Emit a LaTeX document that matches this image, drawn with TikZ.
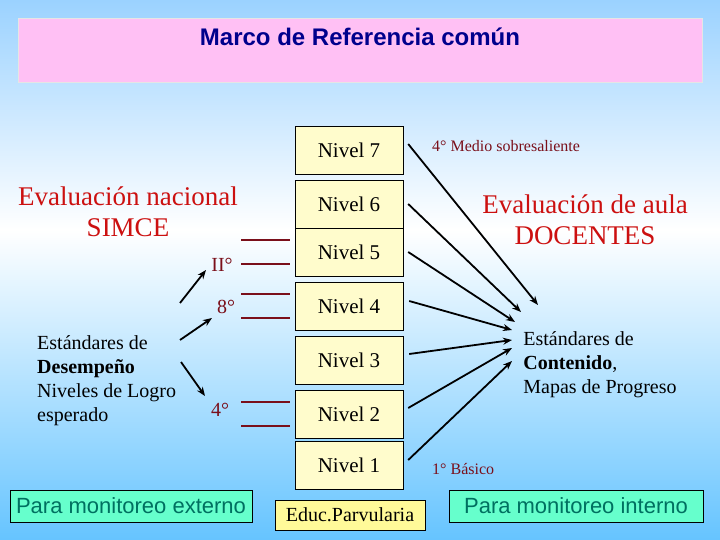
\documentclass[tikz,border=0pt]{standalone}
\usepackage{fontspec}
\usetikzlibrary{arrows.meta}
\setmainfont{Liberation Serif}
\setsansfont{Liberation Sans}
\begin{document}
\begin{tikzpicture}[x=1pt,y=-1pt,
  nivel/.style={draw,fill=yellow!20,minimum width=108pt,minimum height=48pt,font=\fontsize{21}{24}\selectfont,inner sep=0pt},
  mon/.style={draw,fill=aqua,font=\sffamily\fontsize{22}{24}\selectfont,text=monteal,inner sep=0pt},
  arr/.style={-{Stealth[length=9pt,width=7pt]},line width=1.8pt},
  bar/.style={line width=2.8pt,draw=darkred},
  small/.style={text=darkred,font=\fontsize{16}{18}\selectfont,anchor=west,inner sep=0pt},
  big/.style={text=evred,font=\fontsize{27}{31}\selectfont,align=center}]
\definecolor{aqua}{HTML}{66FFCC}
\definecolor{monteal}{HTML}{007060}
\definecolor{darkred}{HTML}{7A0F1A}
\definecolor{evred}{HTML}{CC1010}
\definecolor{bgtop}{HTML}{9BD2FF}
\definecolor{bgbot}{HTML}{66C4FF}
\definecolor{pinkbox}{HTML}{FFC0F4}
\useasboundingbox (0,0) rectangle (720,540);
\shade[top color=bgtop,bottom color=white] (0,0) rectangle (720,230);
\shade[top color=white,bottom color=bgbot] (0,230) rectangle (720,540);
\node[draw=white!80!gray,fill=pinkbox,minimum width=684pt,minimum height=64pt,anchor=north west,inner sep=0pt] (hdr) at (18,18) {};
\node[text=blue!55!black,font=\sffamily\bfseries\fontsize{24}{26}\selectfont] (title) at (360,37) {Marco de Referencia común};
\foreach \n/\y in {7/150,6/204,5/252,4/306,3/360,2/414,1/465}{
  \node[nivel] (n\n) at (349,\y) {Nivel \n};
}
\node[big] (evn) at (128,212) {Evaluación nacional\\SIMCE};
\node[big] (eva) at (585,220) {Evaluación de aula\\DOCENTES};
\node[small] (m4) at (432,146) {4° Medio sobresaliente};
\node[small] (b1) at (432,469) {1° Básico};
\node[text=darkred,font=\fontsize{20}{22}\selectfont] (ii) at (222,265) {II°};
\node[text=darkred,font=\fontsize{20}{22}\selectfont] (e8) at (226,307) {8°};
\node[text=darkred,font=\fontsize{20}{22}\selectfont] (c4) at (220,410) {4°};
\foreach \y in {240,264,294,318,402,426}{
  \coordinate (bl\y) at (241,\y); \coordinate (br\y) at (290,\y);
  \draw[bar] (bl\y) -- (br\y);
}
\node[anchor=west,align=left,font=\fontsize{20}{24}\selectfont,inner sep=0pt] (desl) at (37,381) {Estándares de\\\textbf{Desempeño}\\Niveles de Logro\\esperado};
\node[align=left,font=\fontsize{20}{24}\selectfont,inner sep=0pt] (cont) at (600,365) {Estándares de\\\textbf{Contenido},\\Mapas de Progreso};
\coordinate (ls1) at (180,303); \coordinate (le1) at (206,270);
\coordinate (ls2) at (180,340); \coordinate (le2) at (212,318);
\coordinate (ls3) at (181,362); \coordinate (le3) at (205,396);
\draw[arr] (ls1) -- (le1);
\draw[arr] (ls2) -- (le2);
\draw[arr] (ls3) -- (le3);
\coordinate (t7) at (538,305);
\coordinate (t6) at (521,312);
\coordinate (t5) at (515,322);
\coordinate (t4) at (512,330);
\coordinate (t3) at (512,340);
\coordinate (t2) at (512,348);
\coordinate (t1) at (512,361);
\draw[arr] ([xshift=5pt,yshift=6pt]n7.east) -- (t7);
\draw[arr] ([xshift=5pt]n6.east) -- (t6);
\draw[arr] ([xshift=5pt]n5.east) -- (t5);
\draw[arr] ([xshift=6pt,yshift=5pt]n4.east) -- (t4);
\draw[arr] ([xshift=6pt,yshift=6pt]n3.east) -- (t3);
\draw[arr] ([xshift=5pt,yshift=6pt]n2.east) -- (t2);
\draw[arr] ([xshift=5pt,yshift=5pt]n1.east) -- (t1);
\node[mon,minimum width=242pt,minimum height=32pt] (ext) at (131,506) {Para monitoreo externo};
\node[draw,fill=yellow!40,minimum width=150pt,minimum height=30pt,font=\fontsize{20}{22}\selectfont,inner sep=0pt] (edu) at (350,515) {Educ.Parvularia};
\node[mon,minimum width=254pt,minimum height=32pt] (int) at (576,506) {Para monitoreo interno};
\end{tikzpicture}
\end{document}
